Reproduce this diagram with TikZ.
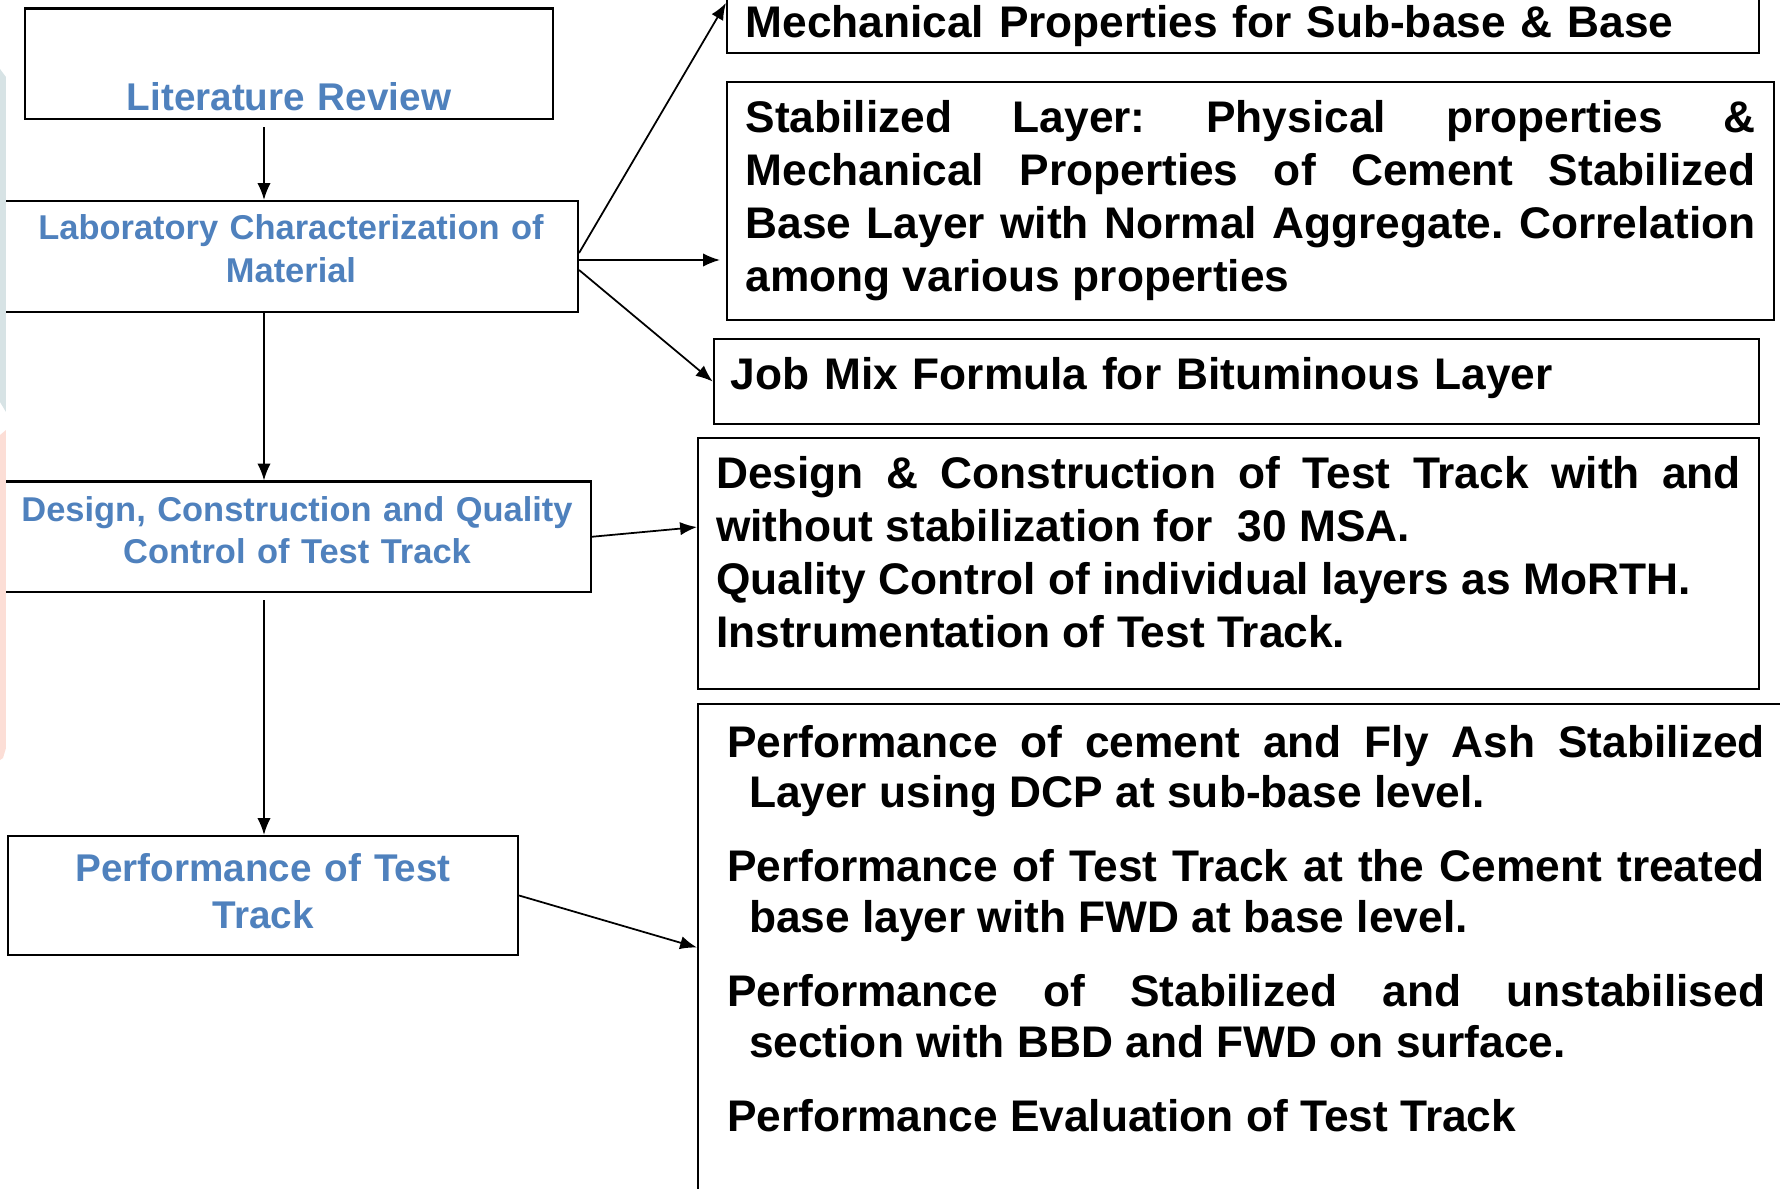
\documentclass[tikz,border=0pt]{standalone}
\usepackage{fontspec}
\setmainfont{Liberation Sans}
\usetikzlibrary{arrows.meta}
\definecolor{stepblue}{HTML}{4F81BD}
\definecolor{bandgray}{HTML}{D7E3E5}
\definecolor{bandpink}{HTML}{FCDED6}
\newcommand{\bigtxt}{\fontsize{12.6}{15.1}\selectfont\bfseries\frenchspacing}

\begin{document}
\begin{tikzpicture}[>={Latex[length=4.8pt,width=3.8pt]},
  stepbox/.style={draw, line width=0.6pt, inner ysep=0pt},
  leftbox/.style={stepbox, text=stepblue, align=center, inner xsep=0pt},
  rightbox/.style={stepbox, anchor=north west, font=\bigtxt}]
  \useasboundingbox (0,0) rectangle (17.8,11.88);

  % left column
  \node[leftbox, font=\fontsize{11}{13}\selectfont\bfseries, text width=5.28cm,
    text height=1.015cm, text depth=0.09cm] (lit) at (2.89,11.2425) {Literature Review};
  \node[leftbox, font=\fontsize{9.8}{12.5}\selectfont\bfseries, text width=5.74cm,
    text height=0.38cm, text depth=0.73cm] (lab) at (2.91,9.315)
    {Laboratory Characterization of\\Material};
  \node[leftbox, font=\fontsize{9.8}{12}\selectfont\bfseries, text width=5.88cm,
    text height=0.402cm, text depth=0.703cm] (dsg) at (2.97,6.5125)
    {Design, Construction and Quality\\Control of Test Track};
  \node[leftbox, font=\fontsize{11}{13.4}\selectfont\bfseries, text width=5.097cm,
    text height=0.45cm, text depth=0.74cm] (perf) at (2.6315,2.925)
    {Performance of Test\\Track};

  % right column
  \node[rightbox, align=left, text width=9.95cm, inner xsep=0.185cm,
    text height=0.44cm, text depth=0.157cm] (mech) at (7.26,11.96)
    {Mechanical Properties for Sub-base \& Base};
  \node[rightbox, align=justify, text width=10.10cm, inner xsep=0.185cm,
    text height=0.50cm, text depth=1.88cm] (stab) at (7.26,11.07)
    {Stabilized Layer: Physical properties \&\linebreak
     Mechanical Properties of Cement Stabilized\linebreak
     Base Layer with Normal Aggregate. Correlation\linebreak
     among various properties};
  \node[rightbox, align=left, text width=10.11cm, inner xsep=0.17cm,
    text height=0.50cm, text depth=0.35cm] (job) at (7.127,8.50)
    {Job Mix Formula for Bituminous Layer};
  \node[rightbox, align=justify, text width=10.25cm, inner xsep=0.18cm,
    text height=0.506cm, text depth=2.004cm] (dsgR) at (6.97,7.51)
    {Design \& Construction of Test Track with and\linebreak
     without stabilization for\ \ 30 MSA.\\
     Quality Control of individual layers as MoRTH.\\
     Instrumentation of Test Track.};
  \node[rightbox, align=justify, text width=10.38cm, inner xsep=0.29cm,
    text height=0.53cm, text depth=4.62cm] (perfR) at (6.97,4.85)
    {\fontsize{12.6}{14.4}\selectfont\setlength{\parskip}{0.235cm}%
     \hangindent=0.22cm\hangafter=1 Performance of cement and Fly Ash Stabilized\linebreak
     Layer using DCP at sub-base level.\par
     \hangindent=0.22cm\hangafter=1 Performance of Test Track at the Cement treated\linebreak
     base layer with FWD at base level.\par
     \hangindent=0.22cm\hangafter=1 Performance of Stabilized and unstabilised\linebreak
     section with BBD and FWD on surface.\par
     Performance Evaluation of Test Track\par};

  % connectors
  \coordinate (spine) at (2.64,0);   % x of the vertical arrows
  \coordinate (labout) at ([yshift=-0.035cm]lab.east);
  \draw[->, line width=0.5pt, shorten <=0.07cm] (lit.south -| spine) -- (lab.north -| spine);
  \draw[->, line width=0.5pt] (lab.south -| spine) -- (dsg.north -| spine);
  \draw[->, line width=0.5pt, shorten <=0.07cm] (dsg.south -| spine) -- (perf.north -| spine);
  \draw[->, line width=0.5pt] ([yshift=0.035cm]lab.east) -- ([yshift=0.2cm]mech.west);
  \draw[->, line width=0.5pt, shorten >=0.06cm] (labout) -- (labout -| stab.west);
  \draw[->, line width=0.5pt] ([yshift=-0.135cm]lab.east) -- (job.west);
  \draw[->, line width=0.5pt] (dsg.east) -- ([yshift=0.365cm]dsgR.west);
  \draw[->, line width=0.5pt] (perf.east) -- ([yshift=0.14cm]perfR.west);

  % faint strips on the left edge
  \fill[bandgray] (0,11.19) -- (0.06,11.11) -- (0.06,7.76) -- (0,7.86) -- cycle;
  \fill[bandpink] (0,7.53) -- (0.06,7.58) -- (0.06,4.40) -- (0.03,4.30) -- (0,4.28) -- cycle;
\end{tikzpicture}
\end{document}
